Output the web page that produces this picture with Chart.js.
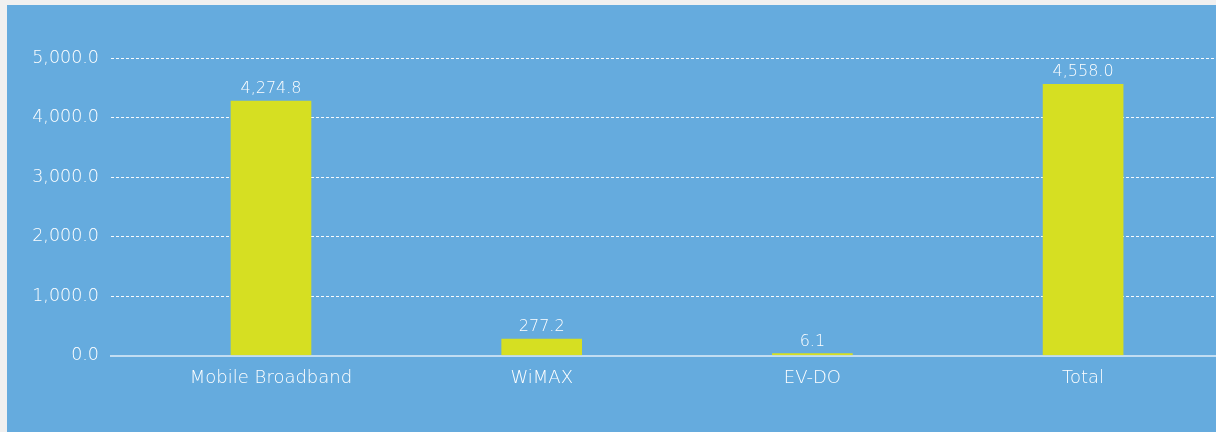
<!DOCTYPE html>
<html>
<head>
<meta charset="utf-8">
<script src="https://cdn.jsdelivr.net/npm/chart.js@4.4.1/dist/chart.umd.min.js"></script>
<style>
  html, body { margin: 0; padding: 0; background: #f0f0f0; overflow: hidden; }
  #panel { position: absolute; left: 7px; top: 5px; width: 1209px; height: 427px; background: #65abde; }
  #chart { display: block; }
</style>
</head>
<body>
<div id="panel"><canvas id="chart" width="1209" height="427"></canvas></div>
<script>
const categories = ['Mobile Broadband', 'WiMAX', 'EV-DO', 'Total'];
const values = [4274.8, 277.2, 6.1, 4558.0];
const yTicks = [0, 1000, 2000, 3000, 4000, 5000];

const FONT = '"DejaVu Sans", sans-serif';

function fmt(v) {
  return v.toLocaleString('en-US', { minimumFractionDigits: 1, maximumFractionDigits: 1 });
}

// etiquetas encima de cada barra
const barLabels = {
  id: 'barLabels',
  afterDatasetsDraw(chart) {
    const ctx = chart.ctx;
    const meta = chart.getDatasetMeta(0);
    ctx.save();
    ctx.font = '200 16px ' + FONT;
    ctx.fillStyle = '#ffffff';
    ctx.textAlign = 'center';
    ctx.textBaseline = 'alphabetic';
    meta.data.forEach((bar, i) => {
      ctx.fillText(fmt(values[i]), bar.x, bar.y - 8);
    });
    ctx.restore();
  }
};

const ctx = document.getElementById('chart').getContext('2d');
new Chart(ctx, {
  type: 'bar',
  data: {
    datasets: [{
      data: values.map((v, i) => ({ x: i, y: v })),
      backgroundColor: '#d6df22',
      borderWidth: 0,
      barThickness: 80,
      minBarLength: 2
    }]
  },
  options: {
    responsive: false,
    animation: false,
    layout: { padding: { top: 53, left: 0, right: 0, bottom: 0 } },
    plugins: { legend: { display: false }, tooltip: { enabled: false } },
    scales: {
      x: {
        type: 'linear',
        offset: false,
        min: -0.591,
        max: 3.491,
        grid: { display: false },
        border: { display: true, color: 'rgba(255,255,255,0.6)', width: 2 },
        afterFit: (s) => { s.height = 76.5; },
        afterBuildTicks: (s) => { s.ticks = categories.map((c, i) => ({ value: i })); },
        ticks: {
          autoSkip: false,
          maxRotation: 0,
          padding: 4,
          color: '#ffffff',
          font: { family: FONT, size: 18, weight: '200' },
          callback: (v) => categories[v] ?? ''
        }
      },
      y: {
        min: 0,
        max: 5000,
        afterFit: (s) => { s.width = 104; },
        afterBuildTicks: (s) => { s.ticks = yTicks.map(v => ({ value: v })); },
        grid: {
          color: (c) => c.tick && c.tick.value === 0 ? 'rgba(0,0,0,0)' : 'rgba(255,255,255,0.95)',
          lineWidth: 1,
          drawTicks: false
        },
        border: { display: false, dash: [3, 2] },
        ticks: {
          padding: 12,
          color: '#ffffff',
          font: { family: FONT, size: 17.5, weight: '200' },
          callback: (v) => fmt(v)
        }
      }
    }
  },
  plugins: [barLabels]
});
</script>
</body>
</html>
